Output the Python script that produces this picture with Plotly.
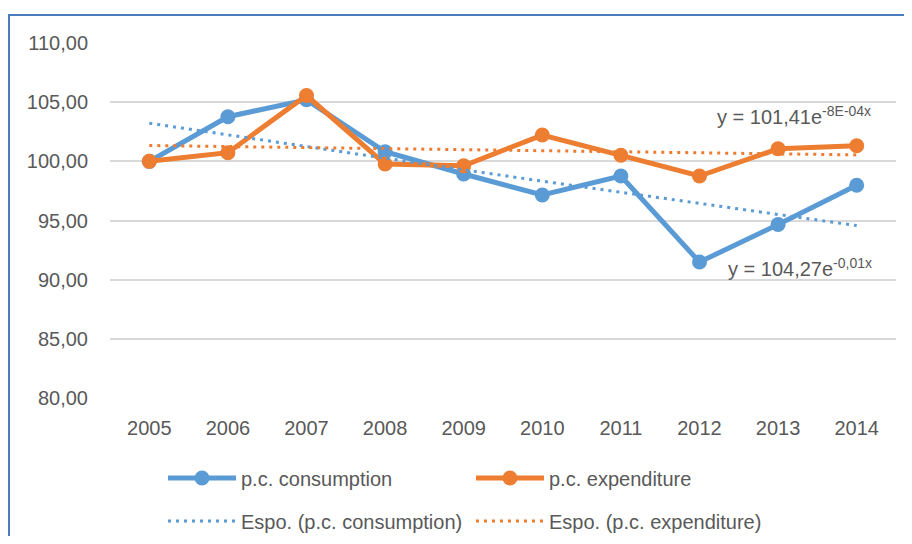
import numpy as np
import plotly.graph_objects as go

years = [2005, 2006, 2007, 2008, 2009, 2010, 2011, 2012, 2013, 2014]
consumption = [100.00, 103.77, 105.20, 100.81, 98.93, 97.16, 98.76, 91.49, 94.66, 97.98]
expenditure = [100.00, 100.73, 105.56, 99.77, 99.63, 102.22, 100.51, 98.76, 101.06, 101.32]
y_ticks = [80, 85, 90, 95, 100, 105, 110]

BLUE = "#5B9BD5"
ORANGE = "#ED7D31"
GREY = "#595959"
FONT = "Liberation Sans"

# Excel-style exponential trendline (least squares on log values, x = 1..n)
xi = np.arange(1, len(years) + 1)
def exp_fit(vals):
    b, ln_a = np.polyfit(xi, np.log(vals), 1)
    return np.exp(ln_a) * np.exp(b * xi)

trend_c = exp_fit(np.array(consumption))
trend_e = exp_fit(np.array(expenditure))

fig = go.Figure()
fig.add_trace(go.Scatter(x=years, y=consumption, mode="lines+markers", name="p.c. consumption",
                         line=dict(color=BLUE, width=5), marker=dict(size=15, color=BLUE),
                         legend="legend"))
fig.add_trace(go.Scatter(x=years, y=expenditure, mode="lines+markers", name="p.c. expenditure",
                         line=dict(color=ORANGE, width=5), marker=dict(size=15, color=ORANGE),
                         legend="legend2"))
fig.add_trace(go.Scatter(x=years, y=trend_c, mode="lines", name="Espo. (p.c. consumption)",
                         line=dict(color=BLUE, width=3, dash="3px,5px"), legend="legend3"))
fig.add_trace(go.Scatter(x=years, y=trend_e, mode="lines", name="Espo. (p.c. expenditure)",
                         line=dict(color=ORANGE, width=3, dash="3px,5px"), legend="legend4"))

fig.add_annotation(x=2012.2, y=103.85, xref="x", yref="y", showarrow=False, xanchor="left",
                   text="y = 101,41e<sup>-8E-04x</sup>", font=dict(size=20, color=GREY, family=FONT))
fig.add_annotation(x=2012.34, y=91.0, xref="x", yref="y", showarrow=False, xanchor="left",
                   text="y = 104,27e<sup>-0,01x</sup>", font=dict(size=20, color=GREY, family=FONT))

# page body has an 8px margin; figure coords = screen coords - 8
FW, FH = 904, 528
L, T, W, H = 102, 35, 786, 355
fig.add_shape(type="rect", xref="paper", yref="paper",
              x0=(1 - L) / W, x1=(930 - L) / W,
              y0=(T + H - 560) / H, y1=(T + H - 7) / H,
              line=dict(color="#4A7EBB", width=2), layer="below")

def leg(px, py):
    return dict(orientation="h", xanchor="left", yanchor="middle",
                xref="container", yref="container",
                x=px / FW, y=1 - py / FH,
                font=dict(size=20, color=GREY, family=FONT),
                bgcolor="rgba(0,0,0,0)", itemwidth=68)

fig.update_layout(
    width=FW, height=FH,
    margin=dict(l=L, r=FW - L - W, t=T, b=FH - T - H, autoexpand=False),
    plot_bgcolor="white", paper_bgcolor="white",
    separators=",.",
    font=dict(family=FONT, size=20, color=GREY),
    xaxis=dict(range=[2004.5, 2014.5], tickmode="array", tickvals=years,
               ticktext=[str(y) for y in years], showgrid=False, zeroline=False,
               showline=False, ticks="", ticklabelstandoff=16,
               tickfont=dict(size=20, color=GREY, family=FONT), fixedrange=True),
    yaxis=dict(range=[80, 110], tickmode="array", tickvals=y_ticks, tickformat=".2f",
               showgrid=True, gridcolor="#D9D9D9", gridwidth=1.5, zeroline=False,
               showline=False, ticks="", ticklabelstandoff=21,
               tickfont=dict(size=20, color=GREY, family=FONT)),
    legend=leg(155, 470),
    legend2=leg(463, 470),
    legend3=leg(155, 513),
    legend4=leg(463, 513),
    showlegend=True,
)

fig.write_html("out.html")
